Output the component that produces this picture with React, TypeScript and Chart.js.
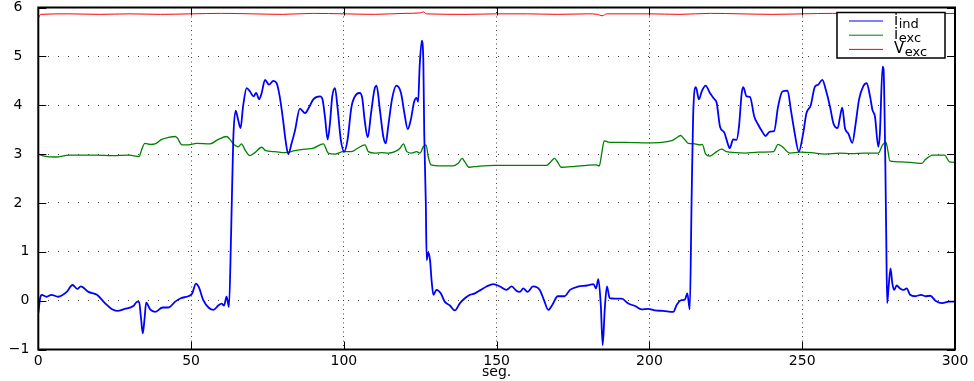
import React, { useEffect, useRef } from 'react';
import { Chart, registerables } from 'chart.js';

Chart.register(...registerables);

// i_ind (blue)
const indT = [0, 0.6, 1.1, 2.7, 4.3, 6.5, 9.3, 11.2, 12.8, 13.9, 16.4, 19.2, 21.8, 24.0, 25.8, 28.3, 31.1, 32.4, 33.0, 33.6, 34.2, 34.8, 35.3, 36.6, 38.3, 40.7, 42.6, 44.8, 46.6, 49.1, 50.3, 51.6, 52.5, 54.0, 55.7, 57.3, 58.9, 60.0, 60.8, 61.6, 62.4, 63.1, 63.8, 64.6, 65.4, 66.2, 67.0, 68.2, 69.3, 70.4, 71.3, 72.3, 73.1, 74.2, 75.5, 76.9, 78.0, 79.0, 80.1, 80.9, 81.8, 82.9, 84.0, 85.6, 87.3, 88.7, 90.0, 92.2, 93.0, 93.8, 94.7, 95.4, 96.2, 97.1, 97.9, 99.0, 100.1, 101.2, 102.5, 104.2, 105.2, 106.0, 106.8, 107.8, 108.9, 110.0, 110.7, 111.8, 112.9, 113.7, 114.5, 115.8, 117.2, 118.7, 119.8, 120.9, 121.9, 123.0, 123.8, 124.3, 124.8, 125.5, 126.0, 126.3, 126.8, 127.1, 127.6, 128.2, 128.7, 129.3, 130.3, 131.7, 133.0, 134.7, 136.3, 138.0, 139.6, 141.3, 142.9, 144.8, 146.7, 148.9, 151.1, 153.2, 154.9, 156.5, 157.6, 158.7, 160.1, 161.9, 164.1, 165.5, 166.9, 168.2, 170.0, 172.2, 174.0, 176.8, 179.5, 181.7, 182.5, 183.3, 184.1, 184.7, 185.4, 186.1, 187.0, 188.7, 190.9, 193.1, 195.3, 197.4, 199.6, 201.8, 204.5, 207.8, 209.0, 210.5, 211.6, 212.4, 213.2, 213.8, 214.3, 215.2, 216.2, 217.1, 218.4, 219.8, 221.3, 222.0, 223.1, 224.5, 225.6, 226.3, 227.4, 228.5, 229.3, 230.2, 230.7, 231.8, 232.9, 234.3, 235.6, 236.9, 238.0, 239.4, 240.8, 242.1, 243.5, 245.2, 246.3, 247.4, 248.9, 250.3, 251.4, 252.8, 254.1, 255.2, 256.6, 257.7, 259.1, 260.2, 261.6, 262.4, 263.1, 264.0, 265.1, 266.4, 267.5, 268.6, 270.0, 271.1, 272.2, 273.0, 273.8, 274.9, 275.4, 276.3, 276.6, 277.2, 277.5, 277.8, 278.3, 278.9, 279.5, 280.1, 280.9, 282.0, 283.1, 284.2, 285.3, 287.0, 288.9, 290.3, 291.9, 293.6, 295.8, 298.0, 300];
const indY = [-0.26, 0.05, 0.12, 0.08, 0.12, 0.08, 0.18, 0.32, 0.24, 0.29, 0.18, 0.12, -0.05, -0.17, -0.21, -0.17, -0.11, -0.02, -0.03, -0.35, -0.67, -0.35, -0.04, -0.18, -0.23, -0.14, -0.14, -0.02, 0.05, 0.09, 0.14, 0.35, 0.28, 0.01, -0.14, -0.19, -0.10, -0.06, -0.10, 0.08, -0.13, 1.38, 3.29, 3.89, 3.70, 3.53, 3.97, 4.35, 4.28, 4.18, 4.25, 4.12, 4.25, 4.52, 4.42, 4.50, 4.45, 4.18, 3.70, 3.29, 3.00, 3.22, 3.48, 3.93, 3.84, 3.97, 4.12, 4.18, 4.12, 3.77, 3.30, 3.60, 4.18, 4.35, 3.97, 3.29, 3.05, 3.29, 3.97, 4.23, 4.25, 4.15, 3.70, 3.34, 3.84, 4.32, 4.40, 3.90, 3.36, 3.22, 3.56, 4.14, 4.40, 4.25, 3.84, 3.51, 3.70, 4.07, 4.15, 4.07, 4.79, 5.32, 4.93, 3.43, 2.06, 0.83, 0.98, 0.83, 0.42, 0.12, 0.22, 0.15, -0.02, -0.10, -0.20, -0.05, 0.05, 0.12, 0.15, 0.22, 0.29, 0.34, 0.29, 0.22, 0.29, 0.20, 0.18, 0.25, 0.18, 0.29, 0.22, 0.01, -0.19, -0.09, 0.09, 0.09, 0.22, 0.29, 0.31, 0.34, 0.25, 0.44, -0.11, -0.91, -0.15, 0.29, 0.05, 0.04, 0.04, -0.06, -0.11, -0.18, -0.17, -0.20, -0.21, -0.23, -0.08, 0.01, 0.02, 0.15, -0.18, 2.06, 3.77, 4.37, 4.12, 4.28, 4.40, 4.25, 4.12, 4.05, 3.56, 3.44, 3.22, 3.12, 3.30, 3.29, 3.56, 4.25, 4.37, 4.18, 4.17, 3.77, 3.60, 3.46, 3.37, 3.46, 3.47, 3.97, 4.28, 4.30, 3.90, 3.48, 3.05, 3.42, 3.84, 4.00, 4.37, 4.42, 4.52, 4.32, 3.97, 3.63, 3.53, 3.77, 3.95, 3.53, 3.42, 3.23, 3.63, 4.12, 4.39, 4.45, 4.18, 3.90, 3.77, 3.15, 3.40, 4.79, 4.75, 2.80, 1.30, -0.05, 0.30, 0.66, 0.35, 0.22, 0.31, 0.25, 0.22, 0.25, 0.12, 0.09, 0.12, 0.09, 0.10, 0.00, -0.05, -0.02, -0.02];

// i_exc (green)
const excT = [0, 1.9, 5.7, 10.1, 18.8, 24.2, 29.7, 33.0, 33.8, 34.9, 36.6, 38.2, 40.4, 42.6, 44.8, 45.5, 47.0, 49.1, 51.8, 56.2, 58.9, 61.6, 62.7, 64.1, 65.4, 66.5, 67.6, 69.3, 70.9, 73.1, 74.4, 77.4, 80.7, 84.0, 87.3, 90.0, 93.3, 94.9, 97.1, 99.8, 102.5, 104.5, 106.9, 108.0, 110.2, 112.4, 114.5, 116.7, 118.4, 119.5, 120.6, 122.2, 123.8, 124.9, 126.0, 126.9, 127.6, 128.5, 132.0, 135.8, 137.4, 138.7, 139.6, 140.9, 143.9, 149.3, 156.0, 162.6, 166.4, 167.8, 168.9, 170.0, 171.1, 175.7, 179.5, 182.5, 183.6, 184.4, 185.2, 187.0, 191.9, 199.6, 204.0, 207.5, 209.5, 210.2, 211.1, 212.7, 214.9, 216.5, 217.3, 218.4, 219.8, 222.0, 223.6, 225.2, 228.0, 231.3, 235.6, 240.6, 242.1, 243.5, 246.0, 249.3, 253.0, 257.4, 262.3, 266.1, 270.5, 274.9, 276.3, 277.4, 278.0, 278.7, 282.5, 286.8, 289.2, 290.3, 292.8, 296.6, 298.2, 300];
const excY = [3.0, 2.96, 2.94, 2.98, 2.98, 2.97, 2.98, 2.95, 3.09, 3.22, 3.20, 3.21, 3.30, 3.34, 3.36, 3.33, 3.19, 3.19, 3.22, 3.21, 3.30, 3.36, 3.30, 3.19, 3.15, 3.21, 3.09, 2.97, 3.03, 3.14, 3.07, 3.05, 3.03, 3.07, 3.10, 3.12, 3.21, 3.02, 3.00, 3.05, 3.05, 3.12, 3.19, 3.05, 3.02, 3.03, 3.02, 3.05, 3.12, 3.21, 3.05, 3.02, 3.05, 3.02, 3.15, 3.19, 2.95, 2.78, 2.76, 2.76, 2.81, 2.91, 2.84, 2.73, 2.75, 2.77, 2.77, 2.77, 2.77, 2.85, 2.91, 2.83, 2.73, 2.75, 2.77, 2.78, 2.76, 3.02, 3.27, 3.24, 3.24, 3.23, 3.24, 3.28, 3.36, 3.38, 3.33, 3.22, 3.21, 3.19, 3.20, 3.00, 2.96, 3.05, 3.10, 3.05, 3.03, 3.02, 3.04, 3.05, 3.20, 3.15, 3.02, 3.04, 3.03, 3.00, 3.02, 3.01, 3.02, 3.02, 3.19, 3.24, 3.08, 2.86, 2.84, 2.82, 2.81, 2.89, 2.98, 2.98, 2.84, 2.83];

// V_exc (red)
const vT = [0, 0.8, 10, 20, 30, 40, 50, 60, 70, 80, 90, 100, 110, 120, 125, 126, 127, 140, 150, 160, 170, 180, 183, 184.5, 186, 200, 210, 220, 230, 240, 250, 260, 270, 280, 290, 300];
const vY = [5.78, 5.86, 5.87, 5.86, 5.87, 5.86, 5.87, 5.88, 5.87, 5.86, 5.88, 5.87, 5.86, 5.88, 5.89, 5.91, 5.87, 5.86, 5.87, 5.87, 5.86, 5.87, 5.86, 5.83, 5.87, 5.87, 5.86, 5.88, 5.87, 5.86, 5.87, 5.88, 5.87, 5.88, 5.87, 5.88];

const xTicks = [0, 50, 100, 150, 200, 250, 300];
const yTicks = [-1, 0, 1, 2, 3, 4, 5, 6];
const legendMain = ['i', 'i', 'V'];
const legendSub = ['ind', 'exc', 'exc'];
const seriesColors = ['#0000ff', '#008000', '#ff0000'];
const xTitle = 'seg.';

const FONT = '"DejaVu Sans", "Liberation Sans", sans-serif';

function pts(t: number[], y: number[]) {
  return t.map((x, i) => ({ x, y: y[i] }));
}

const framePlugin = {
  id: 'frame',
  afterDatasetsDraw(chart: any) {
    const { ctx, chartArea: a, scales } = chart;
    ctx.save();
    ctx.strokeStyle = '#000';
    ctx.lineWidth = 1;
    const L = 8;
    ctx.beginPath();
    for (const v of xTicks) {
      const px = Math.round(scales.x.getPixelForValue(v)) + 0.5;
      ctx.moveTo(px, a.bottom);
      ctx.lineTo(px, a.bottom - L);
      ctx.moveTo(px, a.top);
      ctx.lineTo(px, a.top + L);
    }
    for (const v of yTicks) {
      const py = Math.round(scales.y.getPixelForValue(v)) + 0.5;
      ctx.moveTo(a.left, py);
      ctx.lineTo(a.left + L, py);
      ctx.moveTo(a.right, py);
      ctx.lineTo(a.right - L, py);
    }
    ctx.stroke();
    ctx.lineWidth = 2;
    ctx.strokeRect(a.left, a.top, a.right - a.left, a.bottom - a.top);
    ctx.restore();
  },
  afterDraw(chart: any) {
    const { ctx, chartArea: a } = chart;
    const w = 108;
    const h = 45.5;
    const left = a.right - 118;
    const top = a.top + 5;
    ctx.save();
    ctx.fillStyle = '#fff';
    ctx.fillRect(left, top, w, h);
    ctx.strokeStyle = '#000';
    ctx.lineWidth = 1.5;
    ctx.strokeRect(left, top, w, h);
    for (let i = 0; i < legendMain.length; i++) {
      const ly = top + 8.5 + i * 14.2;
      ctx.strokeStyle = seriesColors[i];
      ctx.lineWidth = 1;
      ctx.beginPath();
      ctx.moveTo(left + 12, ly);
      ctx.lineTo(left + 46, ly);
      ctx.stroke();
      ctx.fillStyle = '#000';
      ctx.textAlign = 'left';
      ctx.textBaseline = 'alphabetic';
      ctx.font = '15px ' + FONT;
      const mx = left + 57;
      ctx.fillText(legendMain[i], mx, ly + 4);
      const mw = ctx.measureText(legendMain[i]).width;
      ctx.font = '13px ' + FONT;
      ctx.fillText(legendSub[i], mx + mw + 0.5, ly + 7);
    }
    ctx.restore();
  },
};

export default function App() {
  const ref = useRef<HTMLCanvasElement | null>(null);
  useEffect(() => {
    document.body.style.margin = '0';
    const canvas = ref.current;
    if (!canvas) return;
    const chart = new Chart(canvas, {
      type: 'line',
      data: {
        datasets: [
          { label: 'i_ind', data: pts(indT, indY), borderColor: seriesColors[0], borderWidth: 1.8, pointRadius: 0, cubicInterpolationMode: 'monotone', fill: false },
          { label: 'i_exc', data: pts(excT, excY), borderColor: seriesColors[1], borderWidth: 1.3, pointRadius: 0, cubicInterpolationMode: 'monotone', fill: false },
          { label: 'V_exc', data: pts(vT, vY), borderColor: seriesColors[2], borderWidth: 1, pointRadius: 0, cubicInterpolationMode: 'monotone', fill: false },
        ],
      },
      options: {
        responsive: false,
        animation: false,
        events: [],
        layout: { padding: { top: 7.5, right: 19, left: 0, bottom: 0 } },
        plugins: { legend: { display: false }, tooltip: { enabled: false } },
        scales: {
          x: {
            type: 'linear',
            min: 0,
            max: 300,
            afterBuildTicks: (s: any) => { s.ticks = xTicks.map((v) => ({ value: v })); },
            afterFit: (s: any) => { s.height = 31.5; s.paddingLeft = 0; s.paddingRight = 0; },
            ticks: { color: '#000', font: { family: FONT, size: 14, lineHeight: 1 }, padding: 5, maxRotation: 0, autoSkip: false },
            grid: { color: 'rgba(0,0,0,0.75)', lineWidth: 1, drawTicks: false },
            border: { display: false, dash: [1, 3.5] },
            title: { display: true, text: xTitle, color: '#000', font: { family: FONT, size: 14, lineHeight: 1 }, padding: { top: 2, bottom: 2 } },
          },
          y: {
            type: 'linear',
            min: -1,
            max: 6,
            afterBuildTicks: (s: any) => { s.ticks = yTicks.map((v) => ({ value: v })); },
            afterFit: (s: any) => { s.width = 38.3; s.paddingTop = 0; s.paddingBottom = 0; },
            ticks: {
              color: '#000',
              font: { family: FONT, size: 14, lineHeight: 1 },
              padding: 9,
              autoSkip: false,
              callback: (v: any) => {
                const n = Number(v);
                if (n < 0) return '\u2212' + Math.abs(n);
                if (n >= 2) return n + '\u2002';
                return String(n);
              },
            },
            grid: { color: 'rgba(0,0,0,0.75)', lineWidth: 1, drawTicks: false },
            border: { display: false, dash: [1, 9] },
          },
        },
      },
      plugins: [framePlugin],
    } as any);
    return () => chart.destroy();
  }, []);
  return (
    <div style={{ width: 974, height: 381 }}>
      <canvas ref={ref} width={974} height={381} />
    </div>
  );
}
